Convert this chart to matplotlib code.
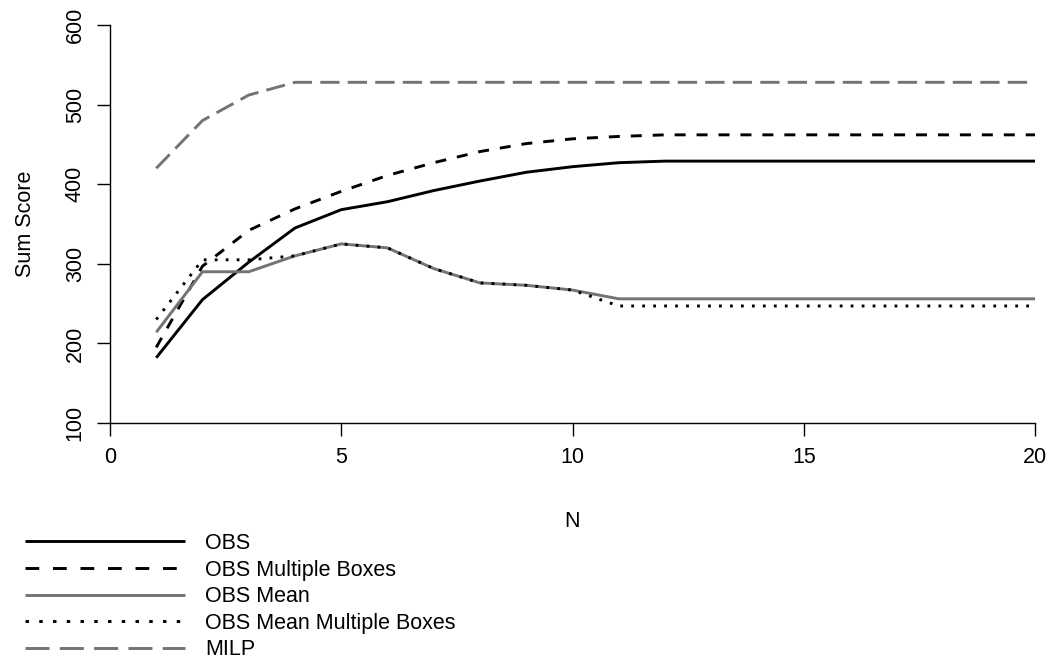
import matplotlib
matplotlib.use("Agg")
import matplotlib.pyplot as plt
from matplotlib.lines import Line2D

plt.rcParams['font.family'] = ['Liberation Sans', 'DejaVu Sans']
plt.rcParams['lines.scale_dashes'] = False

N = list(range(1, 21))
obs = [182, 255, 302, 345, 368, 378, 392, 404, 415, 422, 427, 429, 429, 429, 429, 429, 429, 429, 429, 429]
obs_multi = [195, 297, 342, 369, 391, 411, 427, 441, 451, 457, 460, 462, 462, 462, 462, 462, 462, 462, 462, 462]
obs_mean = [214, 290, 290, 310, 325, 320, 294, 276, 273, 267, 256, 256, 256, 256, 256, 256, 256, 256, 256, 256]
obs_mean_multi = [230, 305, 305, 310, 325, 320, 294, 276, 273, 267, 247, 247, 247, 247, 247, 247, 247, 247, 247, 247]
milp = [420, 480, 512, 528, 528, 528, 528, 528, 528, 528, 528, 528, 528, 528, 528, 528, 528, 528, 528, 528]

labels = ["OBS", "OBS Multiple Boxes", "OBS Mean", "OBS Mean Multiple Boxes", "MILP"]
x_ticks = [0, 5, 10, 15, 20]
y_ticks = [100, 200, 300, 400, 500, 600]

GRAY = '#737373'
LW = 2.1
FS = 15.5

W, H = 1055, 663
fig = plt.figure(figsize=(W / 100, H / 100), dpi=100)
ax = fig.add_axes([110 / W, 1 - 423 / H, (1035 - 110) / W, (423 - 25) / H])

styles_plot = [
    dict(color='black', linestyle='-'),
    dict(color='black', dashes=(7.9, 7.9)),
    dict(color=GRAY, linestyle='-'),
    dict(color='black', dashes=(2.0, 5.9)),
    dict(color=GRAY, dashes=(13.9, 5.9)),
]
styles_leg = [
    dict(color='black', linestyle='-'),
    dict(color='black', dashes=(9.9, 9.9)),
    dict(color=GRAY, linestyle='-'),
    dict(color='black', dashes=(2.5, 7.4)),
    dict(color=GRAY, dashes=(17.3, 7.4)),
]
series = [obs, obs_multi, obs_mean, obs_mean_multi, milp]
for s, st in zip(series, styles_plot):
    ax.plot(N, s, lw=LW, solid_capstyle='butt', dash_capstyle='butt', **st)

ax.set_xlim(0, 20)
ax.set_ylim(100, 600)
ax.set_xticks(x_ticks)
ax.set_yticks(y_ticks)
ax.set_xticklabels([str(v) for v in x_ticks], fontsize=FS)
ax.set_yticklabels([str(v) for v in y_ticks], fontsize=FS, rotation=90, va='center')
for side in ['top', 'right']:
    ax.spines[side].set_visible(False)
for side in ['left', 'bottom']:
    ax.spines[side].set_linewidth(1.0)
ax.tick_params(direction='out', length=9.4, width=1.0, pad=8)
ax.set_xlabel("N", fontsize=FS, labelpad=31)
ax.set_ylabel("Sum Score", fontsize=FS, labelpad=20.5)

handles = [Line2D([], [], lw=LW, solid_capstyle='butt', dash_capstyle='butt', **st) for st in styles_leg]
fig.legend(handles, labels, loc='upper left', bbox_to_anchor=(25 / W, 1 - 533 / H),
           frameon=False, fontsize=FS, borderpad=0, borderaxespad=0,
           handlelength=160 / (FS * 100 / 72), handletextpad=20 / (FS * 100 / 72),
           labelspacing=0.26)

fig.savefig("out.png", dpi=100)
